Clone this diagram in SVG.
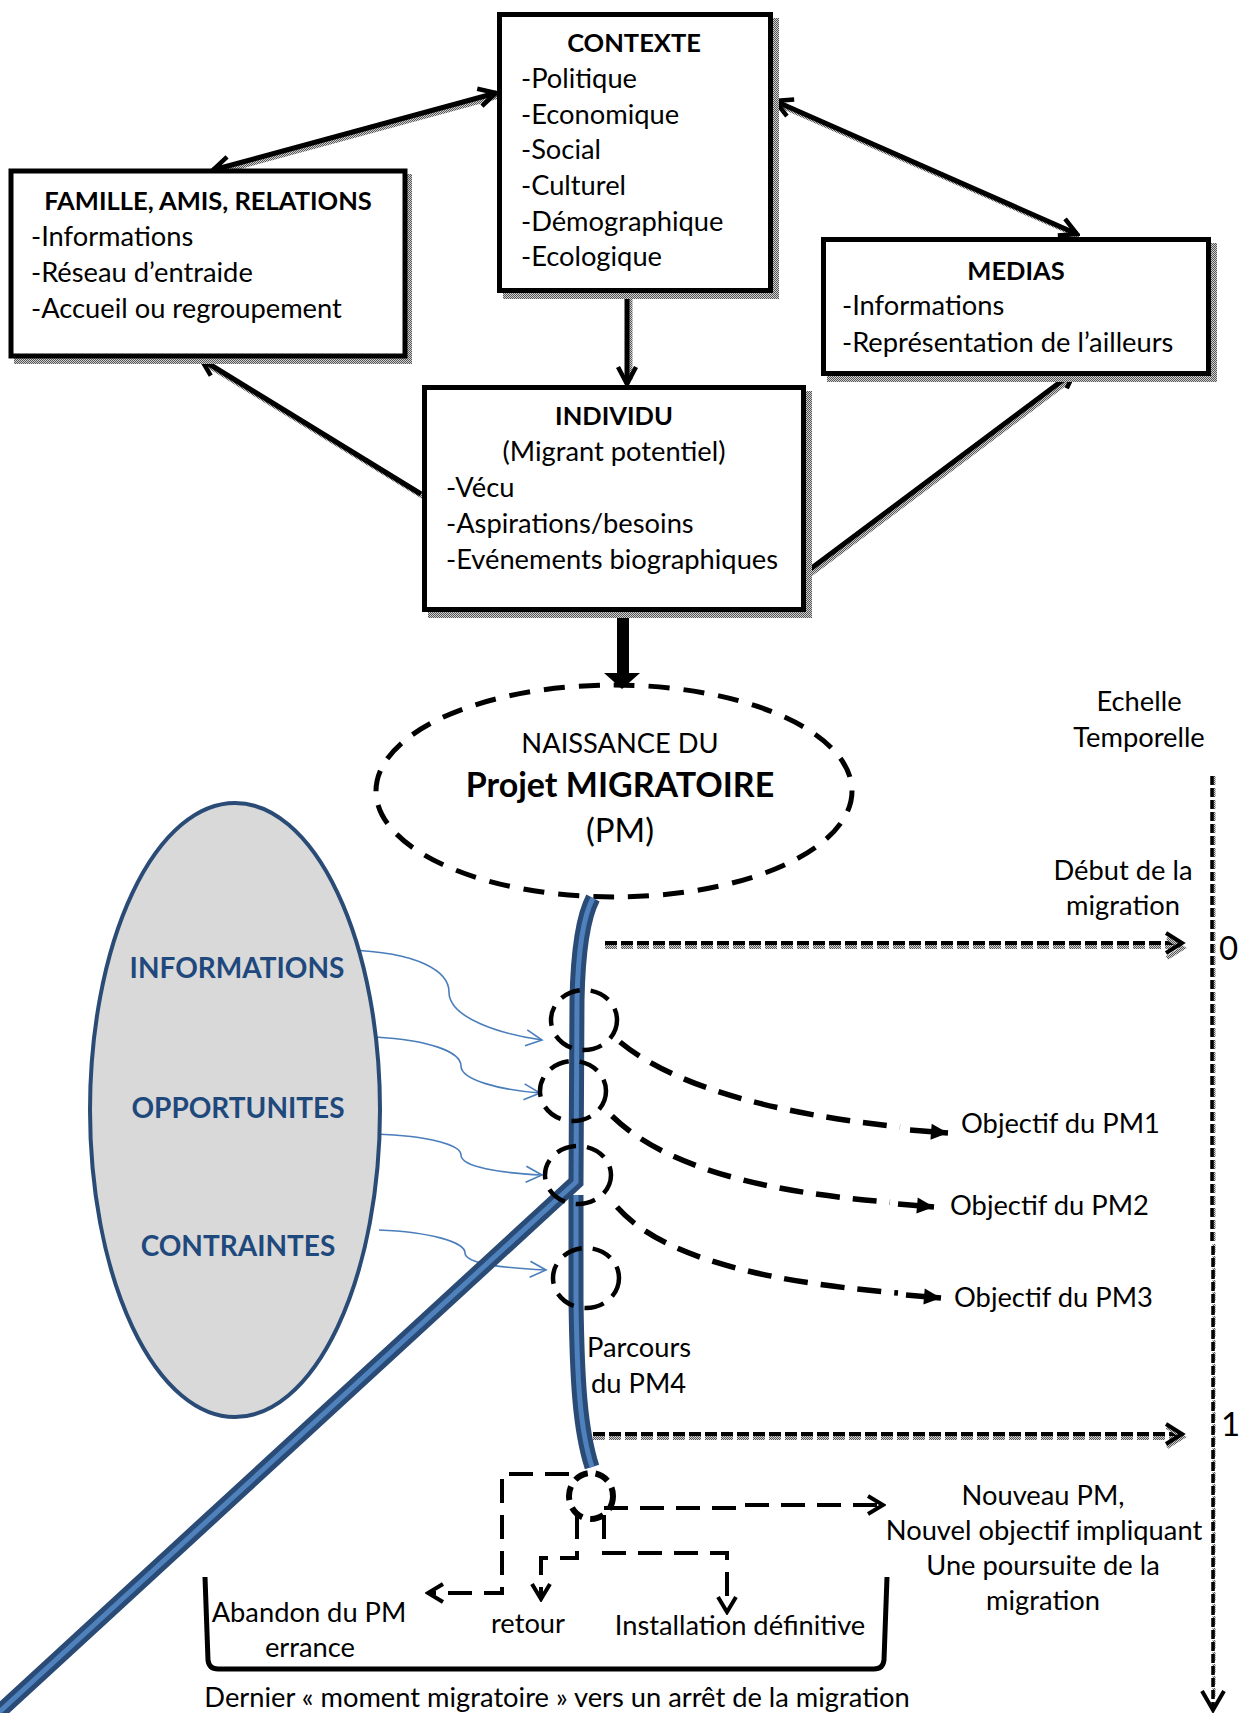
<svg xmlns="http://www.w3.org/2000/svg" width="1242" height="1713" viewBox="0 0 1242 1713">
<defs>
<pattern id="dither" width="2" height="2" patternUnits="userSpaceOnUse">
<rect width="2" height="2" fill="#d0d0d0"/>
<rect width="1" height="1" fill="#555"/>
<rect x="1" y="1" width="1" height="1" fill="#555"/>
</pattern>
<marker id="mo" viewBox="0 0 24 24" refX="21" refY="12" markerWidth="24" markerHeight="24" markerUnits="userSpaceOnUse" orient="auto-start-reverse">
<path d="M4,3 L21,12 L4,21" fill="none" stroke="#000" stroke-width="4.5"/>
</marker>
<marker id="mc" viewBox="0 0 22 22" refX="19" refY="11" markerWidth="22" markerHeight="22" markerUnits="userSpaceOnUse" orient="auto">
<path d="M4,2 L19,11 L4,20" fill="none" stroke="#000" stroke-width="4"/>
</marker>
<marker id="mt" viewBox="0 0 20 20" refX="18" refY="10" markerWidth="20" markerHeight="20" markerUnits="userSpaceOnUse" orient="auto">
<path d="M1,2 L18,10 L1,18 Z" fill="#000"/>
</marker>
<marker id="mb" viewBox="0 0 20 20" refX="18" refY="10" markerWidth="20" markerHeight="20" markerUnits="userSpaceOnUse" orient="auto">
<path d="M2,2 L18,10 L2,18" fill="none" stroke="#4a7ebb" stroke-width="1.6"/>
</marker>
</defs>
<style>
.t{font-family:Lato,'Open Sans','Liberation Sans',sans-serif;font-size:27.3px;fill:#000}
.b{font-weight:bold;font-size:25.5px}
.c{text-anchor:middle}
.box{fill:#fff;stroke:#000;stroke-width:5}
.sh{fill:url(#dither)}
.conn{fill:none;stroke:#000;stroke-width:5}
.connsh{fill:none;stroke:url(#dither);stroke-width:5}
.blue{fill:none;stroke:#4a7ebb;stroke-width:1.6;marker-end:url(#mb)}
.dcurve{fill:none;stroke:#000;stroke-width:5.5;stroke-dasharray:24 13}
.dpath{fill:none;stroke:#000;stroke-width:4;stroke-dasharray:24 12}
.circ{fill:none;stroke:#000;stroke-width:4.5;stroke-dasharray:20 11}
.dot{fill:none;stroke:#000;stroke-width:4;stroke-dasharray:12 4}
.dotsh{fill:none;stroke:url(#dither);stroke-width:4;stroke-dasharray:12 4}
.lbl{font-family:Lato,'Open Sans','Liberation Sans',sans-serif;font-size:28px;font-weight:bold;fill:#1f497d;text-anchor:middle}
.rib{fill:none;stroke:#2a4b76;stroke-width:15}
.ribin{fill:none;stroke:#4f81bd;stroke-width:5}
</style>

<g id="connectors">
  <line class="connsh" x1="216" y1="173" x2="499" y2="96"/>
  <line class="connsh" x1="777" y1="104" x2="1079" y2="236"/>
  <line class="connsh" x1="630" y1="296" x2="630" y2="380"/>
  <line class="connsh" x1="424" y1="497" x2="206" y2="364"/>
  <line class="connsh" x1="808" y1="576" x2="1075" y2="376"/>
  <line class="conn" x1="213" y1="170" x2="496" y2="93" marker-start="url(#mo)" marker-end="url(#mo)"/>
  <line class="conn" x1="775" y1="101" x2="1077" y2="234" marker-start="url(#mo)" marker-end="url(#mo)"/>
  <line class="conn" x1="627" y1="294" x2="627" y2="384" marker-end="url(#mo)"/>
  <line class="conn" x1="421" y1="494" x2="201" y2="359" marker-end="url(#mo)"/>
  <line class="conn" x1="805" y1="573" x2="1075" y2="371" marker-end="url(#mo)"/>
  <polygon points="617,611 629,611 629,673 640,673 622,689 604,673 617,673" fill="#000"/>

  <path class="blue" d="M347,950 C420,952 449,972 449,992 C449,1018 500,1034 542,1040"/>
  <path class="blue" d="M375,1037 C430,1040 461,1052 461,1066 C461,1080 500,1090 540,1093"/>
  <path class="blue" d="M375,1134 C430,1136 461,1145 461,1155 C461,1167 500,1173 542,1175"/>
  <path class="blue" d="M379,1230 C430,1232 465,1242 465,1253 C465,1264 505,1268 546,1270"/>

  <path class="dcurve" d="M620,1042 C660,1075 740,1110 900,1127"/>
  <line x1="910" y1="1130" x2="948" y2="1133" stroke="#000" stroke-width="5.5" marker-end="url(#mt)"/>
  <path class="dcurve" d="M612,1116 C652,1155 730,1190 890,1202"/>
  <line x1="898" y1="1204" x2="934" y2="1207" stroke="#000" stroke-width="5.5" marker-end="url(#mt)"/>
  <path class="dcurve" d="M617,1207 C655,1250 740,1280 898,1293"/>
  <line x1="906" y1="1295" x2="941" y2="1298" stroke="#000" stroke-width="5.5" marker-end="url(#mt)"/>

  <line class="dotsh" x1="605" y1="947" x2="1176" y2="947"/>
  <line class="dot" x1="605" y1="943" x2="1176" y2="943"/>
  <path d="M1166,935 L1182,945 L1166,955" fill="none" stroke="url(#dither)" stroke-width="4" transform="translate(1,3)"/>
  <path d="M1166,933 L1182,943 L1166,953" fill="none" stroke="#000" stroke-width="4"/>
  <line class="dotsh" x1="593" y1="1438" x2="1176" y2="1438"/>
  <line class="dot" x1="593" y1="1434" x2="1176" y2="1434"/>
  <path d="M1166,1424 L1182,1434 L1166,1444" fill="none" stroke="url(#dither)" stroke-width="4" transform="translate(1,3)"/>
  <path d="M1166,1424 L1182,1434 L1166,1444" fill="none" stroke="#000" stroke-width="4"/>

  <line x1="1214" y1="776" x2="1214" y2="1700" stroke="url(#dither)" stroke-width="3" stroke-dasharray="9 3"/>
  <line x1="1212" y1="776" x2="1212" y2="1244" stroke="#000" stroke-width="3.5" stroke-dasharray="9 3"/>
  <line x1="1213" y1="1246" x2="1213" y2="1706" stroke="#000" stroke-width="3.5" stroke-dasharray="9 3"/>
  <path d="M1202,1691 L1213,1710 L1224,1691" fill="none" stroke="#000" stroke-width="4"/>

  <path class="dpath" d="M569,1474 L502,1474 L502,1593 L428,1593" marker-end="url(#mc)"/>
  <path class="dpath" d="M577,1515 L577,1558 L541,1558 L541,1599" stroke-dasharray="40 10" marker-end="url(#mc)"/>
  <path class="dpath" d="M604,1515 L604,1553 L727,1553 L727,1612" marker-end="url(#mc)"/>
  <path class="dpath" d="M604,1508 L743,1508 L743,1505 L883,1505" marker-end="url(#mc)"/>

  <path d="M205,1577 L208,1660 Q209,1669 218,1669 L874,1669 Q883,1669 884,1660 L887,1577" fill="none" stroke="#000" stroke-width="5"/>
</g>

<g id="node-famille">
  <rect class="sh" x="14" y="174" width="398" height="190"/>
  <rect class="box" x="11" y="171" width="394" height="185"/>
  <text class="t b c" x="208" y="210">FAMILLE, AMIS, RELATIONS</text>
  <text class="t" x="31" y="246">-Informations</text>
  <text class="t" x="31" y="282">-Réseau d’entraide</text>
  <text class="t" x="31" y="318">-Accueil ou regroupement</text>
</g>

<g id="node-contexte">
  <rect class="sh" x="503" y="18" width="276" height="281"/>
  <rect class="box" x="499.5" y="14.5" width="271" height="276"/>
  <text class="t b c" x="634" y="52">CONTEXTE</text>
  <text class="t" x="521" y="88">-Politique</text>
  <text class="t" x="521" y="124">-Economique</text>
  <text class="t" x="521" y="159">-Social</text>
  <text class="t" x="521" y="195">-Culturel</text>
  <text class="t" x="521" y="231">-Démographique</text>
  <text class="t" x="521" y="266">-Ecologique</text>
</g>

<g id="node-medias">
  <rect class="sh" x="827" y="243" width="390" height="139"/>
  <rect class="box" x="823.5" y="239.5" width="385" height="134"/>
  <text class="t b c" x="1016" y="280">MEDIAS</text>
  <text class="t" x="842" y="315">-Informations</text>
  <text class="t" x="842" y="352">-Représentation de l’ailleurs</text>
</g>

<g id="node-individu">
  <rect class="sh" x="428" y="391" width="384" height="227"/>
  <rect class="box" x="424.5" y="387.5" width="379" height="222"/>
  <text class="t b c" x="614" y="425">INDIVIDU</text>
  <text class="t c" x="614" y="461">(Migrant potentiel)</text>
  <text class="t" x="446" y="497">-Vécu</text>
  <text class="t" x="446" y="533">-Aspirations/besoins</text>
  <text class="t" x="446" y="569">-Evénements biographiques</text>
</g>

<g id="node-pm">
  <ellipse cx="614" cy="791" rx="238" ry="106" fill="none" stroke="#000" stroke-width="5" stroke-dasharray="21 14"/>
  <text class="t c" x="620" y="753">NAISSANCE DU</text>
  <text class="t c" x="620" y="797" style="font-size:34px;font-weight:bold">Projet MIGRATOIRE</text>
  <text class="t c" x="620" y="842" style="font-size:33px">(PM)</text>
</g>

<g id="node-facteurs">
  <ellipse cx="235" cy="1110" rx="145" ry="307" fill="#d9d9d9" stroke="#2a4b76" stroke-width="4"/>
  <text class="lbl" x="237" y="978">INFORMATIONS</text>
  <text class="lbl" x="238" y="1118">OPPORTUNITES</text>
  <text class="lbl" x="238" y="1256">CONTRAINTES</text>
</g>

<g id="node-parcours">
  <path class="rib" d="M593,898 C584,915 578,950 577,1000 L576,1182 L-4,1715"/>
  <path class="ribin" d="M593,898 C584,915 578,950 577,1000 L576,1182 L-4,1715"/>
  <path class="rib" d="M576,1195 L576,1300 C577,1380 580,1430 592,1467"/>
  <path class="ribin" d="M576,1195 L576,1300 C577,1380 580,1430 592,1467"/>
  <text class="t" x="587" y="1357">Parcours</text>
  <text class="t" x="591" y="1393">du PM4</text>
</g>

<g id="node-moments">
  <ellipse class="circ" cx="584" cy="1020" rx="33" ry="30"/>
  <ellipse class="circ" cx="573" cy="1091" rx="33" ry="30"/>
  <ellipse class="circ" cx="578" cy="1175" rx="33" ry="29"/>
  <ellipse class="circ" cx="586" cy="1278" rx="33" ry="30"/>
  <ellipse cx="591" cy="1496" rx="22" ry="23" fill="none" stroke="#000" stroke-width="6" stroke-dasharray="14 8"/>
</g>

<g id="node-objectifs">
  <text class="t" x="961" y="1133">Objectif du PM1</text>
  <text class="t" x="950" y="1215">Objectif du PM2</text>
  <text class="t" x="954" y="1307">Objectif du PM3</text>
</g>

<g id="node-echelle">
  <text class="t c" x="1139" y="711">Echelle</text>
  <text class="t c" x="1139" y="747">Temporelle</text>
  <text class="t c" x="1123" y="880">Début de la</text>
  <text class="t c" x="1123" y="915">migration</text>
  <text class="t" x="1219" y="960" style="font-size:33px">0</text>
  <text class="t" x="1221" y="1436" style="font-size:33px">1</text>
</g>

<g id="node-issues">
  <text class="t c" x="1043" y="1505">Nouveau PM,</text>
  <text class="t c" x="1044" y="1540">Nouvel objectif impliquant</text>
  <text class="t c" x="1043" y="1575">Une poursuite de la</text>
  <text class="t c" x="1043" y="1610">migration</text>
  <text class="t c" x="309" y="1622">Abandon du PM</text>
  <text class="t c" x="310" y="1657">errance</text>
  <text class="t c" x="528" y="1633">retour</text>
  <text class="t c" x="740" y="1635">Installation définitive</text>
  <text class="t c" x="557" y="1707">Dernier « moment migratoire » vers un arrêt de la migration</text>
</g>
</svg>
